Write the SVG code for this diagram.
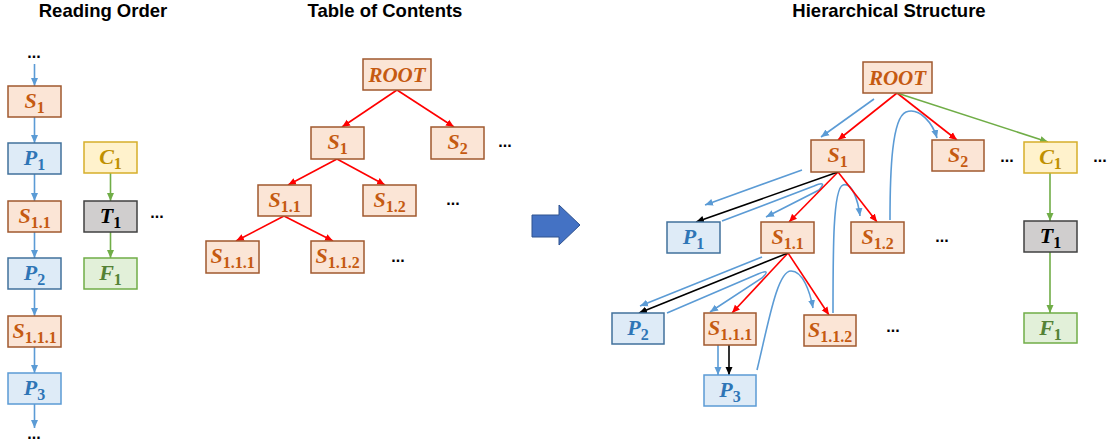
<svg xmlns="http://www.w3.org/2000/svg" width="1110" height="447" viewBox="0 0 1110 447">
<defs>
<style>
.ttl{font-family:"Liberation Sans",Arial,sans-serif;font-weight:bold;font-size:18.5px;fill:#000;text-anchor:middle}
.dots{font-family:"Liberation Sans",Arial,sans-serif;font-weight:bold;font-size:16px;fill:#000;text-anchor:middle}
.node text{font-family:"Liberation Serif","DejaVu Serif",serif;font-weight:bold;font-style:italic;font-size:22px;text-anchor:middle}
.node .sub{font-style:normal;font-size:16px}
.node .rt{font-size:21px}
.node rect{stroke-width:1.5}
.s rect{fill:#FBE5D6;stroke:#A0582E}.s text{fill:#C55A11}
.p rect{fill:#DEEBF7;stroke:#41719C}.p text{fill:#2E75B6}
.p3 rect{stroke:#5B9BD5}
.c rect{fill:#FFF2CC;stroke:#D6AE2A}.c text{fill:#BF9000}
.t rect{fill:#D0CECE;stroke:#404040}.t text{fill:#000}
.f rect{fill:#E2F0D9;stroke:#70AD47}.f text{fill:#548235}
.e{fill:none;stroke-width:1.6}
.bl{stroke:#5B9BD5;marker-end:url(#ab)}
.rd{stroke:#FF0000;marker-end:url(#ar)}
.bk{stroke:#000;marker-end:url(#ak)}
.gn{stroke:#70AD47;marker-end:url(#ag)}
</style>
<marker id="ab" markerUnits="userSpaceOnUse" markerWidth="9" markerHeight="8" refX="8" refY="4" orient="auto"><path d="M0,0.5 L8,4 L0,7.5 z" fill="#5B9BD5"/></marker>
<marker id="ar" markerUnits="userSpaceOnUse" markerWidth="9" markerHeight="8" refX="8" refY="4" orient="auto"><path d="M0,0.5 L8,4 L0,7.5 z" fill="#FF0000"/></marker>
<marker id="ak" markerUnits="userSpaceOnUse" markerWidth="9" markerHeight="8" refX="8" refY="4" orient="auto"><path d="M0,0.5 L8,4 L0,7.5 z" fill="#000"/></marker>
<marker id="ag" markerUnits="userSpaceOnUse" markerWidth="9" markerHeight="8" refX="8" refY="4" orient="auto"><path d="M0,0.5 L8,4 L0,7.5 z" fill="#70AD47"/></marker>
</defs>
<rect width="1110" height="447" fill="#fff"/>

<text class="ttl" x="103" y="17">Reading Order</text>
<text class="ttl" x="385" y="17">Table of Contents</text>
<text class="ttl" x="889" y="17">Hierarchical Structure</text>

<g id="connectors">
<!-- reading order -->
<path class="e bl" d="M34.5,64 L34.5,86"/>
<path class="e bl" d="M34.5,117 L34.5,143"/>
<path class="e bl" d="M34.5,174 L34.5,201"/>
<path class="e bl" d="M34.5,232 L34.5,258"/>
<path class="e bl" d="M34.5,289 L34.5,316"/>
<path class="e bl" d="M34.5,347 L34.5,373"/>
<path class="e bl" d="M34.5,404 L34.5,428"/>
<path class="e gn" d="M110.5,173 L110.5,201"/>
<path class="e gn" d="M110.5,232 L110.5,258"/>
<!-- table of contents -->
<path class="e rd" d="M397,90 L342,127"/>
<path class="e rd" d="M397,90 L454,127"/>
<path class="e rd" d="M337,159 L288,185"/>
<path class="e rd" d="M337,159 L385,185"/>
<path class="e rd" d="M284,216 L236,241"/>
<path class="e rd" d="M284,216 L333,241"/>
<!-- hierarchical: blue reading order -->
<path class="e bl" d="M874,99 L821,137"/>
<path class="e bl" d="M802,170 L705,205"/>
<path class="e bl" d="M722,221 L814,186 Q828,180 819,190 L766,217"/>
<path class="e bl" d="M833,313 C833,250 833,188 843,185 C852,182 858,200 860,216"/>
<path class="e bl" d="M890,220 C890,170 892,118 906,112 C920,107 933,124 937,138"/>
<path class="e bl" d="M762,257 L640,306"/>
<path class="e bl" d="M667,313 L758,274 Q772,268 762,278 L710,312"/>
<path class="e bl" d="M718,345 L718,375"/>
<path class="e bl" d="M757,370 C768,325 777,271 791,271 C803,271 810,292 813,308"/>
<!-- hierarchical: red -->
<path class="e rd" d="M897,93 L838,140"/>
<path class="e rd" d="M897,93 L957,140"/>
<path class="e rd" d="M838,172 L789,222"/>
<path class="e rd" d="M838,172 L877,222"/>
<path class="e rd" d="M788,253 L732,313"/>
<path class="e rd" d="M788,253 L829,315"/>
<!-- hierarchical: black -->
<path class="e bk" d="M838,172 L696,222"/>
<path class="e bk" d="M788,253 L639,313"/>
<path class="e bk" d="M729,345 L729,375"/>
<!-- hierarchical: green -->
<path class="e gn" d="M897,93 L1048,142"/>
<path class="e gn" d="M1050,173 L1050,221"/>
<path class="e gn" d="M1050,252 L1050,313"/>
</g>

<!-- reading order nodes -->
<g id="ro-s1" class="node s"><rect x="8" y="86" width="53" height="31"/><text x="34.5" y="108">S<tspan class="sub" dy="5">1</tspan></text></g>
<g id="ro-p1" class="node p"><rect x="8" y="143" width="53" height="31"/><text x="34.5" y="165">P<tspan class="sub" dy="5">1</tspan></text></g>
<g id="ro-s11" class="node s"><rect x="8" y="201" width="53" height="31"/><text x="34.5" y="223">S<tspan class="sub" dy="5">1.1</tspan></text></g>
<g id="ro-p2" class="node p"><rect x="8" y="258" width="53" height="31"/><text x="34.5" y="280">P<tspan class="sub" dy="5">2</tspan></text></g>
<g id="ro-s111" class="node s"><rect x="8" y="316" width="53" height="31"/><text x="34.5" y="338">S<tspan class="sub" dy="5">1.1.1</tspan></text></g>
<g id="ro-p3" class="node p p3"><rect x="8" y="373" width="53" height="31"/><text x="34.5" y="395">P<tspan class="sub" dy="5">3</tspan></text></g>
<g id="ro-c1" class="node c"><rect x="84" y="142" width="53" height="31"/><text x="110.5" y="164">C<tspan class="sub" dy="5">1</tspan></text></g>
<g id="ro-t1" class="node t"><rect x="84" y="201" width="53" height="31"/><text x="110.5" y="223">T<tspan class="sub" dy="5">1</tspan></text></g>
<g id="ro-f1" class="node f"><rect x="84" y="258" width="53" height="31"/><text x="110.5" y="280">F<tspan class="sub" dy="5">1</tspan></text></g>
<text class="dots" x="34" y="58">...</text>
<text class="dots" x="34" y="439">...</text>
<text class="dots" x="157" y="218">...</text>

<!-- table of contents nodes -->
<g id="toc-root" class="node s"><rect x="363" y="59" width="68" height="31"/><text class="rt" x="397" y="82">ROOT</text></g>
<g id="toc-s1" class="node s"><rect x="311" y="127" width="53" height="32"/><text x="337.5" y="149">S<tspan class="sub" dy="5">1</tspan></text></g>
<g id="toc-s2" class="node s"><rect x="431" y="127" width="53" height="32"/><text x="457.5" y="149">S<tspan class="sub" dy="5">2</tspan></text></g>
<g id="toc-s11" class="node s"><rect x="258" y="185" width="53" height="31"/><text x="284.5" y="207">S<tspan class="sub" dy="5">1.1</tspan></text></g>
<g id="toc-s12" class="node s"><rect x="363" y="185" width="53" height="31"/><text x="389.5" y="207">S<tspan class="sub" dy="5">1.2</tspan></text></g>
<g id="toc-s111" class="node s"><rect x="206" y="241" width="53" height="32"/><text x="232.5" y="263">S<tspan class="sub" dy="5">1.1.1</tspan></text></g>
<g id="toc-s112" class="node s"><rect x="311" y="241" width="53" height="32"/><text x="337.5" y="263">S<tspan class="sub" dy="5">1.1.2</tspan></text></g>
<text class="dots" x="505" y="147">...</text>
<text class="dots" x="453" y="205">...</text>
<text class="dots" x="398" y="262">...</text>

<!-- big arrow -->
<polygon points="532,215 559,215 559,205 580,225 559,245 559,237 532,237" fill="#4472C4" stroke="#2F528F" stroke-width="1"/>

<!-- hierarchical structure nodes -->
<g id="h-root" class="node s"><rect x="863" y="62" width="69" height="31"/><text class="rt" x="897.5" y="85">ROOT</text></g>
<g id="h-s1" class="node s"><rect x="811" y="140" width="53" height="32"/><text x="837.5" y="162">S<tspan class="sub" dy="5">1</tspan></text></g>
<g id="h-s2" class="node s"><rect x="932" y="140" width="52" height="31"/><text x="958" y="162">S<tspan class="sub" dy="5">2</tspan></text></g>
<g id="h-c1" class="node c"><rect x="1024" y="142" width="53" height="31"/><text x="1050.5" y="164">C<tspan class="sub" dy="5">1</tspan></text></g>
<g id="h-p1" class="node p"><rect x="667" y="222" width="53" height="31"/><text x="693.5" y="244">P<tspan class="sub" dy="5">1</tspan></text></g>
<g id="h-s11" class="node s"><rect x="761" y="222" width="53" height="31"/><text x="787.5" y="244">S<tspan class="sub" dy="5">1.1</tspan></text></g>
<g id="h-s12" class="node s"><rect x="851" y="222" width="53" height="31"/><text x="877.5" y="244">S<tspan class="sub" dy="5">1.2</tspan></text></g>
<g id="h-t1" class="node t"><rect x="1024" y="221" width="53" height="31"/><text x="1050.5" y="243">T<tspan class="sub" dy="5">1</tspan></text></g>
<g id="h-p2" class="node p"><rect x="612" y="313" width="52" height="31"/><text x="638" y="335">P<tspan class="sub" dy="5">2</tspan></text></g>
<g id="h-s111" class="node s"><rect x="704" y="313" width="52" height="32"/><text x="730" y="335">S<tspan class="sub" dy="5">1.1.1</tspan></text></g>
<g id="h-s112" class="node s"><rect x="804" y="315" width="52" height="31"/><text x="830" y="337">S<tspan class="sub" dy="5">1.1.2</tspan></text></g>
<g id="h-f1" class="node f"><rect x="1024" y="313" width="53" height="30"/><text x="1050.5" y="335">F<tspan class="sub" dy="5">1</tspan></text></g>
<g id="h-p3" class="node p p3"><rect x="704" y="375" width="52" height="31"/><text x="730" y="397">P<tspan class="sub" dy="5">3</tspan></text></g>
<text class="dots" x="1007" y="162">...</text>
<text class="dots" x="1100" y="162">...</text>
<text class="dots" x="942" y="242">...</text>
<text class="dots" x="893" y="332">...</text>
</svg>
